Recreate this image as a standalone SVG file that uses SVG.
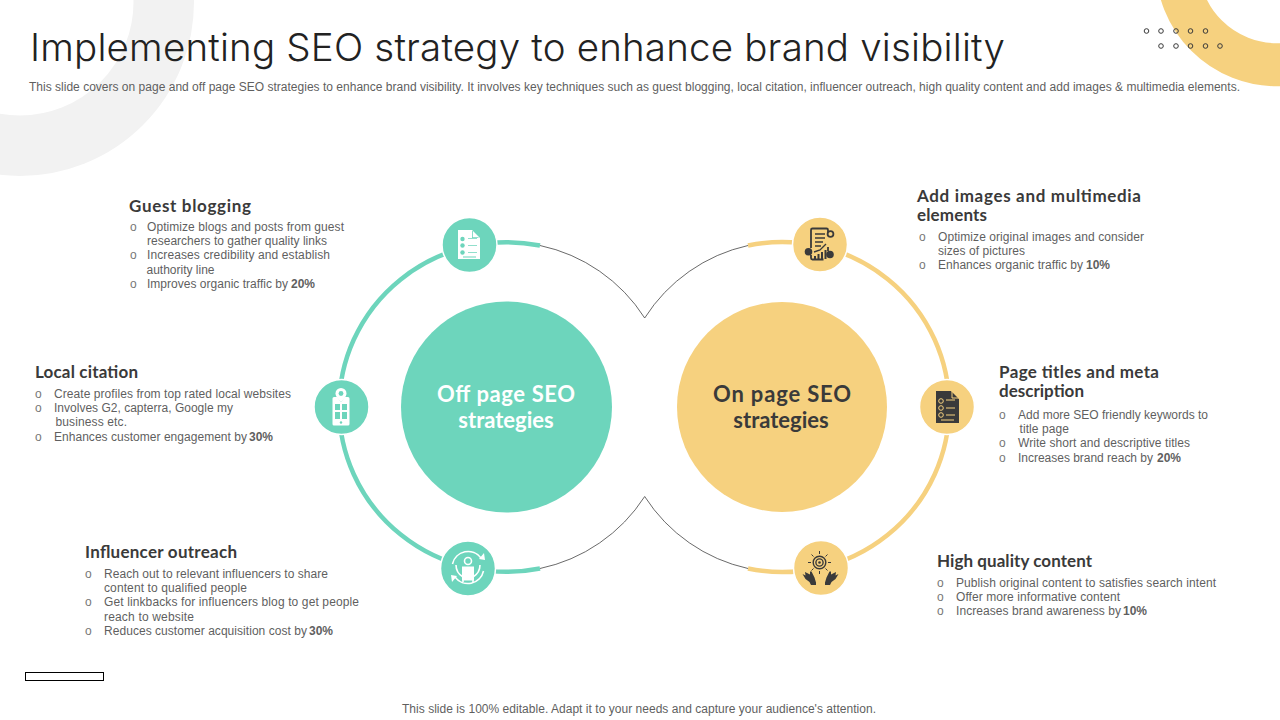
<svg xmlns="http://www.w3.org/2000/svg" width="1280" height="720" viewBox="0 0 1280 720">
<style>
text{font-family:"Liberation Sans",Arial,sans-serif;fill:#5f5f5f}
.t{font-family:Inter,"Liberation Sans",sans-serif;font-weight:300;font-size:38.5px;fill:#222}
.s{font-size:12px}
.h{font-family:Lato,"Liberation Sans",sans-serif;font-size:17px;font-weight:700;fill:#3a3a3a}
.b{font-size:12px}
.o{font-size:12px;fill:#777}
.m{font-size:12px;font-weight:700}
.c{font-family:Lato,"Liberation Sans",sans-serif;font-size:22px;font-weight:700;text-anchor:middle}
.tn{fill:#6DD5BC;stroke:#fff;stroke-width:1.5}
.yn{fill:#F6D17F;stroke:#fff;stroke-width:1.5}
.w{fill:#fff;stroke:none}
.wl{fill:none;stroke:#fff;stroke-width:1.6}
.d{fill:#3a3a3a;stroke:none}
.dl{fill:none;stroke:#3a3a3a;stroke-width:1.4}
.dt{fill:none;stroke:#3a3a3a;stroke-width:1}
</style>
<circle cx="20" cy="2" r="143.75" fill="none" stroke="#F2F2F2" stroke-width="60.5"/>
<circle cx="1277" cy="-35" r="99.75" fill="none" stroke="#F6D17F" stroke-width="43"/>
<g class="dt">
<circle cx="1146.5" cy="31" r="2.3"/><circle cx="1161" cy="31" r="2.3"/><circle cx="1176" cy="31" r="2.3"/><circle cx="1190.5" cy="31" r="2.3"/><circle cx="1205.5" cy="31" r="2.3"/>
<circle cx="1161" cy="46" r="2.3"/><circle cx="1176" cy="46" r="2.3"/><circle cx="1190.5" cy="46" r="2.3"/><circle cx="1205.5" cy="46" r="2.3"/><circle cx="1220" cy="46" r="2.3"/>
</g>
<text class="t" x="30" y="61" textLength="975" lengthAdjust="spacing">Implementing SEO strategy to enhance brand visibility</text>
<text class="s" x="29" y="91" textLength="1211" lengthAdjust="spacing">This slide covers on page and off page SEO strategies to enhance brand visibility. It involves key techniques such as guest blogging, local citation, influencer outreach, high quality content and add images &amp; multimedia elements.</text>

<g id="connectors" fill="none">
<path d="M540 245.500A167.500 164.800 0 1 0 540 568.500" stroke="#6DD5BC" stroke-width="4.500"/>
<path d="M748 245.500A167 165 0 1 1 748 568.500" stroke="#F6D17F" stroke-width="4.500"/>
<path d="M540 245.500A165 165 0 0 1 644.700 318A165 165 0 0 1 748 245.500" stroke="#444" stroke-width="0.800"/>
<path d="M540 568.500A165 165 0 0 0 644.700 496.500A165 165 0 0 0 748 568.500" stroke="#444" stroke-width="0.800"/>
</g>

<g id="off-page"><circle cx="506.500" cy="407" r="105.500" fill="#6DD5BC"/>
<text class="c" x="506" y="402" style="fill:#fff" textLength="138">Off page SEO</text><text class="c" x="506" y="428" style="fill:#fff">strategies</text></g>
<g id="on-page"><circle cx="782" cy="407" r="105" fill="#F6D17F"/>
<text class="c" x="782" y="402" style="fill:#3a3a3a" textLength="138">On page SEO</text><text class="c" x="781" y="428" style="fill:#3a3a3a">strategies</text></g>

<g id="icon-guest"><circle class="tn" cx="469.500" cy="245" r="27.500"/>
<path class="w" d="M458 230H472L480 238V259H458Z"/>
<g fill="#6DD5BC"><circle cx="462.500" cy="239" r="2.200"/><circle cx="462.500" cy="245.500" r="2.200"/><circle cx="462.500" cy="252.500" r="2.200"/><path d="M468 238h9v.8h-9zM468 245h9v.8h-9zM468 252h9v.8h-9zM463 256.500h13v1h-13zM472 231v7h7l-1-.8h-5.200v-6.200z"/></g></g>

<g id="icon-local"><circle class="tn" cx="341.500" cy="407" r="27.500"/>
<path class="w" d="M341 388a5.500 5.500 0 0 1 5.500 5.500c0 3-3 6-5.500 8.500c-2.500-2.500-5.500-5.500-5.500-8.500A5.500 5.500 0 0 1 341 388Z"/>
<circle cx="341" cy="393.500" r="2.400" fill="#6DD5BC"/>
<path class="w" d="M334 397h3l4 5 4-5h3a1.500 1.500 0 0 1 1.500 1.500V424a1.500 1.500 0 0 1-1.500 1.500H334a1.500 1.500 0 0 1-1.500-1.500V398.500A1.500 1.500 0 0 1 334 397Z"/>
<path d="M335 404h5v6h-5zM342 404h5v6h-5zM335 412h5v7h-5zM342 412h5v7h-5z" fill="#6DD5BC"/><circle cx="341" cy="422.500" r="1.200" fill="#6DD5BC"/></g>

<g id="icon-influencer"><circle class="tn" cx="468" cy="568.500" r="27.500"/>
<path class="wl" d="M452.500 564a16 16 0 0 1 28.500-6M483.500 571a16 16 0 0 1-28.500 6"/>
<path class="w" d="M484 553l1 7-6-1zM452 582l-1-7 6 1z"/>
<circle class="wl" cx="468" cy="561" r="3.500"/>
<path class="w" d="M462 566.500h12v14h-12z"/>
<path class="wl" d="M456 565c0 6 2 9 7 12v5M480 565c0 6-2 9-7 12v5"/></g>

<g id="icon-multimedia"><circle class="yn" cx="820" cy="244.500" r="27.500"/>
<path d="M811 248V230a1.500 1.500 0 0 1 1.500-1.500h14a1.500 1.500 0 0 1 1.500 1.500v3M828 247v4M811 255v3a1.500 1.500 0 0 0 1.500 1.500h11" fill="none" stroke="#3a3a3a" stroke-width="1.800"/>
<path class="dl" d="M815 234h10M815 238h10M815 242h8M815 246h6M814 252l6-2 6-6"/>
<circle class="d" cx="808.500" cy="251.700" r="3.800"/><circle class="d" cx="830" cy="254.500" r="3.800"/><circle class="d" cx="830.500" cy="234" r="3.800"/><circle cx="830.500" cy="234" r="2" fill="#F6D17F"/>
<path class="d" d="M814 256h2v3h-2zM817.500 254h2v5h-2zM821 252h2v7h-2zM824.500 250h2v9h-2z"/></g>

<g id="icon-titles"><circle class="yn" cx="947" cy="407" r="27.500"/>
<path class="d" d="M936 391H951L959 399V423H936Z"/>
<path d="M952 391v7h7" fill="none" stroke="#F6D17F" stroke-width="1"/>
<g fill="none" stroke="#F6D17F" stroke-width="1"><circle cx="941" cy="401" r="2.300"/><circle cx="941" cy="408" r="2.300"/><circle cx="941" cy="415" r="2.300"/><path d="M946 400h9M946 408h9M946 415h9M941 420h13"/></g></g>

<g id="icon-quality"><circle class="yn" cx="821" cy="568" r="27.500"/>
<circle cx="819.500" cy="562.500" r="6.300" class="dl" stroke-width="1.200"/><circle class="dl" cx="819.500" cy="562.500" r="3.600"/><circle class="d" cx="819.500" cy="562.500" r="1.300"/>
<path class="dt" d="M819.500 554v-3M819.500 571v3M811 562.500h-3M828 562.500h3M813.500 556.500l-2-2M825.500 556.500l2-2M813.500 568.500l-2 2M825.500 568.500l2 2"/>
<path class="d" d="M805 572l5 2.500 0-3 1.500 0 3 6 1.500 5v2.500h-5l-1.500-3-4-3-3-5 3 1.500z"/>
<path class="d" d="M836 572l-5 2.500 0-3-1.500 0-3 6-1.500 5v2.500h5l1.500-3 4-3 3-5-3 1.500z"/></g>

<g id="guest-blogging">
<text class="h" x="129" y="212" textLength="122">Guest blogging</text>
<text class="o" x="130" y="231">o</text><text class="b" x="147" y="231" textLength="197">Optimize blogs and posts from guest</text>
<text class="b" x="147" y="245" textLength="180">researchers to gather quality links</text>
<text class="o" x="130" y="259">o</text><text class="b" x="147" y="259" textLength="183">Increases credibility and establish</text>
<text class="b" x="146.500" y="274" textLength="68">authority line</text>
<text class="o" x="130" y="288">o</text><text class="b" x="147" y="288" textLength="141">Improves organic traffic by</text><text class="m" x="291" y="288">20%</text>
</g>
<g id="local-citation">
<text class="h" x="35" y="378" textLength="103">Local citation</text>
<text class="o" x="35" y="398">o</text><text class="b" x="54" y="398" textLength="237">Create profiles from top rated local websites</text>
<text class="o" x="35" y="412">o</text><text class="b" x="54" y="412" textLength="179">Involves G2, capterra, Google my</text>
<text class="b" x="55.500" y="426" textLength="71.500">business etc.</text>
<text class="o" x="35" y="441">o</text><text class="b" x="54" y="441" textLength="193">Enhances customer engagement by</text><text class="m" x="249" y="441">30%</text>
</g>
<g id="influencer-outreach">
<text class="h" x="85" y="558" textLength="152">Influencer outreach</text>
<text class="o" x="85" y="578">o</text><text class="b" x="104" y="578" textLength="224">Reach out to relevant influencers to share</text>
<text class="b" x="104" y="592" textLength="143">content to qualified people</text>
<text class="o" x="85" y="606">o</text><text class="b" x="104" y="606" textLength="255">Get linkbacks for influencers blog to get people</text>
<text class="b" x="104" y="621" textLength="90">reach to website</text>
<text class="o" x="85" y="635">o</text><text class="b" x="104" y="635" textLength="203">Reduces customer acquisition cost by</text><text class="m" x="309" y="635">30%</text>
</g>
<g id="add-images">
<text class="h" x="917" y="202" textLength="224">Add images and multimedia</text>
<text class="h" x="917" y="221" textLength="70">elements</text>
<text class="o" x="919" y="241">o</text><text class="b" x="938" y="241" textLength="206">Optimize original images and consider</text>
<text class="b" x="938" y="255" textLength="87">sizes of pictures</text>
<text class="o" x="919" y="269">o</text><text class="b" x="938" y="269" textLength="145">Enhances organic traffic by</text><text class="m" x="1086" y="269">10%</text>
</g>
<g id="page-titles">
<text class="h" x="999" y="378" textLength="160">Page titles and meta</text>
<text class="h" x="999" y="397" textLength="85">description</text>
<text class="o" x="999" y="419">o</text><text class="b" x="1018" y="419" textLength="190">Add more SEO friendly keywords to</text>
<text class="b" x="1019.500" y="433" textLength="49.500">title page</text>
<text class="o" x="999" y="447">o</text><text class="b" x="1018" y="447" textLength="172">Write short and descriptive titles</text>
<text class="o" x="999" y="462">o</text><text class="b" x="1018" y="462" textLength="135">Increases brand reach by</text><text class="m" x="1157" y="462">20%</text>
</g>
<g id="high-quality">
<text class="h" x="937" y="567" textLength="155">High quality content</text>
<text class="o" x="937" y="587">o</text><text class="b" x="956" y="587" textLength="260">Publish original content to satisfies search intent</text>
<text class="o" x="937" y="601">o</text><text class="b" x="956" y="601" textLength="164">Offer more informative content</text>
<text class="o" x="937" y="615">o</text><text class="b" x="956" y="615" textLength="165">Increases brand awareness by</text><text class="m" x="1123" y="615">10%</text>
</g>
<rect x="25.500" y="672.500" width="78" height="8" fill="#fff" stroke="#000" stroke-width="1"/>
<text class="s" x="402" y="713" textLength="474" lengthAdjust="spacing">This slide is 100% editable. Adapt it to your needs and capture your audience's attention.</text>
</svg>
